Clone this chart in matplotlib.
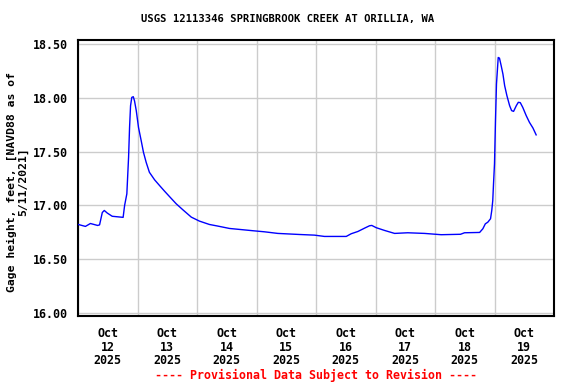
import matplotlib
matplotlib.use("Agg")
import matplotlib.pyplot as plt
import numpy as np

# Hours since 2025-10-12 00:00 and gage height (ft)
hours = [0.1, 3.0, 5.0, 7.9, 8.7, 9.8, 10.6, 11.8, 13.8, 18.2, 18.8, 19.7, 20.4, 20.8,
         21.2, 21.7, 22.3, 22.8, 23.5, 24.4, 25.5, 26.4, 27.5, 28.8, 30.9, 32.9, 34.9,
         36.9, 39.6, 42.3, 45.7, 49.0, 53.0, 56.4, 61.1, 66.5, 70.5, 75.2, 80.6, 89.4,
         95.4, 99.4, 108.2, 110.2, 112.9, 115.6, 117.6, 118.5, 120.3, 123.6, 127.7,
         133.0, 139.8, 146.5, 154.3, 155.9, 162.0, 163.3, 164.3, 165.3, 166.4, 166.9,
         167.3, 167.6, 168.0, 168.4, 168.8, 169.5, 170.0, 170.7, 171.4, 172.1, 173.0,
         174.1, 174.9, 175.7, 176.8, 177.6, 178.4, 179.4, 180.8, 182.1, 183.5, 184.8]
gage = [16.824, 16.806, 16.833, 16.815, 16.82, 16.935, 16.954, 16.93, 16.90, 16.89,
        17.00, 17.108, 17.447, 17.725, 17.926, 18.003, 18.009, 17.97, 17.88, 17.725,
        17.60, 17.494, 17.40, 17.308, 17.238, 17.185, 17.133, 17.083, 17.016, 16.96,
        16.892, 16.855, 16.824, 16.809, 16.787, 16.775, 16.766, 16.756, 16.741, 16.731,
        16.725, 16.713, 16.713, 16.738, 16.759, 16.79, 16.812, 16.815, 16.794, 16.769,
        16.741, 16.747, 16.741, 16.729, 16.733, 16.747, 16.75, 16.784, 16.83, 16.845,
        16.877, 16.954, 17.046, 17.20, 17.386, 17.787, 18.127, 18.373, 18.367, 18.296,
        18.219, 18.111, 18.019, 17.926, 17.88, 17.873, 17.926, 17.957, 17.954, 17.91,
        17.833, 17.771, 17.719, 17.655]

day_labels = ["Oct\n12\n2025", "Oct\n13\n2025", "Oct\n14\n2025", "Oct\n15\n2025",
              "Oct\n16\n2025", "Oct\n17\n2025", "Oct\n18\n2025", "Oct\n19\n2025"]
y_ticks = [16.0, 16.5, 17.0, 17.5, 18.0, 18.5]
y_labels = ["16.00", "16.50", "17.00", "17.50", "18.00", "18.50"]

title = "USGS 12113346 SPRINGBROOK CREEK AT ORILLIA, WA"
ylabel = "Gage height, feet, [NAVD88 as of\n5/11/2021]"
footer = "---- Provisional Data Subject to Revision ----"

mono = "DejaVu Sans Mono"

fig = plt.figure(figsize=(5.76, 3.84), dpi=100)
W, H = 576, 384
ax = fig.add_axes([78 / W, 1 - 316 / H, (554 - 78) / W, (316 - 40) / H])

ax.plot(hours, gage, color="#0000ff", linewidth=1.0, zorder=3)

ax.set_xlim(0, 192)
ax.set_ylim(15.975, 18.535)

ax.set_xticks(np.arange(0, 193, 24))
ax.set_xticklabels([])
ax.set_xticks(np.arange(12, 192, 24), minor=True)
ax.set_xticklabels(day_labels, minor=True, fontfamily=mono, fontweight="bold",
                   fontsize=8.4, linespacing=1.05)
ax.set_yticks(y_ticks)
ax.set_yticklabels(y_labels, fontfamily=mono, fontweight="bold", fontsize=8.4)

ax.tick_params(axis="both", which="both", length=0)
ax.tick_params(axis="x", which="minor", pad=8)
ax.tick_params(axis="y", pad=7)

ax.grid(True, which="major", color="#cccccc", linewidth=1.0, zorder=1)
for s in ax.spines.values():
    s.set_color("black")
    s.set_linewidth(1.5)

fig.text(17.5 / W, 1 - 182 / H, ylabel, rotation=90, ha="center", va="center",
         multialignment="center", fontfamily=mono, fontweight="bold",
         fontsize=8.2, linespacing=1.1)

fig.text(288 / W, 1 - 19 / H, title, ha="center", va="center",
         fontfamily=mono, fontweight="bold", fontsize=7.6)
fig.text(316 / W, 1 - 375 / H, footer, ha="center", va="center",
         fontfamily=mono, fontweight="bold", fontsize=8.4, color="#ff0000")

fig.savefig("out.png", dpi=100)
